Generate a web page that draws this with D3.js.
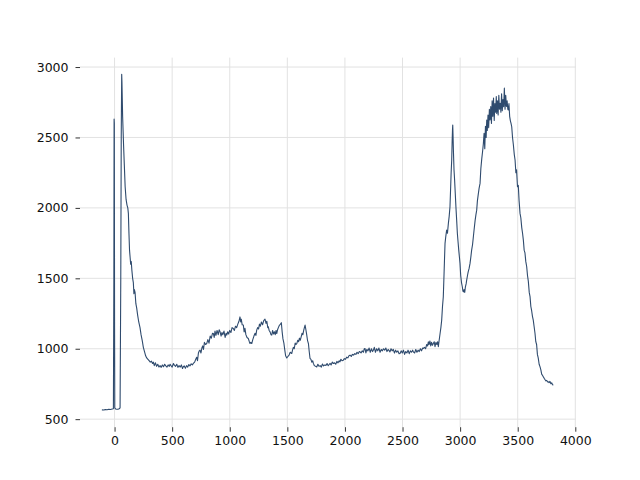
<!DOCTYPE html>
<html><head><meta charset="utf-8">
<script src="https://cdn.jsdelivr.net/npm/d3@7"></script>
<style>body{margin:0;background:#fff}svg{display:block}</style>
</head><body>
<svg id="c" width="640" height="480"></svg>
<script>
const xTicks = [0,500,1000,1500,2000,2500,3000,3500,4000];
const yTicks = [500,1000,1500,2000,2500,3000];
const wavenumber = [
-110,-95,-80,-65,-50,-35,-20,-10,-6,-4,-2,0,2,10,20,30,40,48,54,58,62,64,70,78,85,92,100,108,115,120,125,130,135,140,145,150,157,163,168,172,178,185,192,200,210,221,230,240,250,260,270,279,290,300,310,320,330,337,345,355,365,375,385,395,405,415,425,435,445,455,465,475,482,490,500,511,520,530,540,550,560,570,580,590,597,605,615,625,635,645,655,665,675,684,695,705,713,720,728,735,742,750,758,765,772,780,790,800,810,820,830,840,850,858,865,872,880,890,900,908,916,925,932,940,950,960,968,974,982,990,1000,1010,1020,1031,1040,1050,1060,1070,1080,1089,1095,1100,1108,1118,1125,1132,1140,1150,1161,1170,1176,1183,1191,1200,1210,1220,1227,1234,1242,1250,1258,1266,1275,1285,1295,1306,1315,1322,1330,1335,1342,1350,1358,1365,1372,1380,1388,1395,1402,1408,1415,1422,1430,1440,1448,1455,1462,1470,1478,1485,1495,1505,1515,1525,1538,1545,1552,1560,1568,1575,1582,1590,1598,1605,1612,1620,1628,1635,1642,1648,1654,1660,1668,1675,1683,1690,1697,1705,1712,1720,1726,1735,1745,1755,1765,1775,1785,1795,1805,1815,1825,1835,1845,1855,1865,1871,1880,1890,1900,1910,1920,1930,1940,1950,1957,1965,1975,1986,1995,2005,2015,2025,2035,2044,2055,2065,2075,2085,2095,2105,2115,2125,2131,2140,2150,2160,2168,2174,2182,2190,2200,2210,2220,2230,2240,2247,2255,2265,2275,2285,2295,2305,2315,2325,2335,2345,2355,2365,2375,2385,2391,2400,2410,2420,2430,2440,2450,2460,2470,2478,2488,2498,2508,2518,2528,2538,2548,2558,2568,2578,2588,2594,2605,2615,2625,2635,2645,2655,2665,2675,2681,2690,2700,2710,2718,2724,2730,2738,2745,2752,2760,2767,2775,2782,2790,2798,2805,2811,2818,2826,2833,2840,2847,2854,2860,2865,2869,2876,2883,2890,2898,2905,2912,2918,2922,2927,2931,2934,2936,2939,2942,2947,2952,2958,2964,2970,2976,2982,2988,2994,2999,3005,3012,3019,3024,3028,3034,3040,3046,3052,3057,3064,3070,3078,3086,3093,3100,3108,3115,3122,3130,3137,3144,3150,3158,3165,3173,3180,3188,3195,3202,3208,3214,3220,3226,3231,3236,3242,3248,3254,3260,3266,3272,3278,3284,3290,3296,3302,3308,3314,3318,3324,3330,3336,3342,3348,3354,3360,3366,3372,3378,3384,3390,3396,3402,3408,3414,3418,3424,3430,3436,3442,3448,3455,3462,3470,3477,3484,3490,3498,3505,3512,3520,3527,3535,3542,3549,3556,3563,3570,3578,3585,3592,3600,3607,3614,3621,3628,3635,3642,3650,3657,3664,3671,3678,3686,3694,3701,3708,3716,3723,3730,3738,3745,3752,3760,3766,3772,3780,3788,3795,3802,3809];
const intensity = [
566,565,568,567,570,569,572,574,1500,2630,2600,1200,580,572,570,571,574,580,1500,2500,2948,2900,2650,2450,2300,2150,2060,2020,2000,1960,1820,1700,1650,1600,1620,1560,1500,1470,1390,1420,1400,1320,1290,1240,1190,1150,1100,1060,1010,980,950,935,925,915,905,912,895,905,880,900,875,890,870,880,868,885,872,890,878,870,885,875,890,880,870,895,882,875,890,868,880,870,885,860,872,878,862,880,870,888,878,893,885,896,905,925,940,915,970,985,990,970,1005,1020,995,1045,1030,1037,1065,1040,1090,1075,1110,1108,1080,1125,1095,1130,1100,1135,1120,1090,1115,1100,1125,1080,1110,1097,1120,1105,1130,1115,1150,1144,1130,1160,1150,1175,1195,1226,1190,1210,1170,1168,1120,1145,1100,1080,1073,1050,1037,1045,1037,1065,1090,1110,1095,1132,1150,1140,1175,1160,1190,1170,1200,1210,1180,1195,1150,1156,1130,1120,1100,1097,1130,1105,1120,1100,1130,1108,1135,1150,1165,1175,1185,1120,1070,1040,990,950,935,945,955,975,966,990,1010,1000,1040,1030,1037,1060,1050,1075,1060,1085,1110,1100,1130,1150,1168,1140,1100,1060,1037,980,931,925,905,915,896,880,875,871,890,875,880,870,892,878,885,882,895,880,890,896,885,905,895,900,890,910,900,915,907,925,915,919,930,925,940,935,950,955,945,960,955,965,960,975,965,980,978,970,985,975,1000,1002,970,995,985,1005,975,1000,980,990,1010,975,1000,985,1005,975,995,985,1000,990,1005,980,995,985,978,1000,985,995,970,990,975,985,965,966,985,970,990,960,980,970,990,965,985,975,990,978,970,995,975,990,980,1000,985,1005,1002,1010,1000,1030,1020,1049,1030,1055,1020,1045,1025,1037,1050,1015,1045,1030,1050,1014,1060,1108,1150,1203,1300,1369,1520,1650,1748,1800,1842,1820,1890,1940,2008,2150,2250,2340,2480,2560,2588,2500,2400,2269,2200,2100,2000,1913,1820,1760,1700,1650,1606,1520,1470,1440,1410,1404,1420,1400,1440,1460,1487,1520,1545,1570,1606,1650,1700,1740,1795,1850,1910,1950,1984,2050,2100,2140,2174,2280,2350,2400,2458,2530,2420,2580,2500,2624,2550,2660,2570,2700,2624,2720,2600,2760,2650,2780,2620,2740,2680,2790,2671,2760,2660,2800,2700,2742,2680,2810,2690,2770,2718,2850,2700,2800,2720,2760,2700,2695,2740,2650,2620,2600,2576,2500,2450,2380,2340,2250,2270,2150,2160,2050,1961,1930,1860,1820,1771,1700,1680,1620,1582,1520,1480,1400,1370,1300,1270,1230,1203,1160,1110,1050,1030,960,935,890,871,850,820,810,800,790,780,772,775,765,765,760,768,752,758,745,741];

const W=640,H=480, L=80, R=576, T=57.6, B=427.2;
const svg=d3.select('#c');
const x=d3.scaleLinear().domain([-300,4006]).range([L,R]);
const y=d3.scaleLinear().domain([443,3067]).range([B,T]);
const font='DejaVu Sans, sans-serif';

const g=svg.append('g');
g.selectAll('line.vg').data(xTicks).join('line').attr('class','vg')
 .attr('x1',d=>x(d)).attr('x2',d=>x(d)).attr('y1',T).attr('y2',B)
 .attr('stroke','#e2e2e2').attr('stroke-width',1);
g.selectAll('line.hg').data(yTicks).join('line').attr('class','hg')
 .attr('x1',L).attr('x2',R).attr('y1',d=>y(d)).attr('y2',d=>y(d))
 .attr('stroke','#e2e2e2').attr('stroke-width',1);

const xAxis=d3.axisBottom(x).tickValues(xTicks).tickSize(4.5).tickPadding(4).tickFormat(d3.format('d'));
const xa=svg.append('g').attr('transform',`translate(0,${B})`).call(xAxis);
const yAxis=d3.axisLeft(y).tickValues(yTicks).tickSize(4.5).tickPadding(7).tickFormat(d3.format('d'));
const ya=svg.append('g').attr('transform',`translate(${L},0)`).call(yAxis);
[xa,ya].forEach(a=>{
  a.select('.domain').remove();
  a.selectAll('.tick line').attr('stroke','#333').attr('stroke-width',1);
  a.selectAll('.tick text').attr('fill','#111').style('font-family',font).style('font-size','12.5px');
});

const data=wavenumber.map((w,i)=>[w,intensity[i]]);
svg.append('path').datum(data)
 .attr('fill','none').attr('stroke','#2f4b6e').attr('stroke-width',1.1).attr('stroke-linejoin','round')
 .attr('d',d3.line().x(d=>x(d[0])).y(d=>y(d[1])));
</script>
</body></html>
